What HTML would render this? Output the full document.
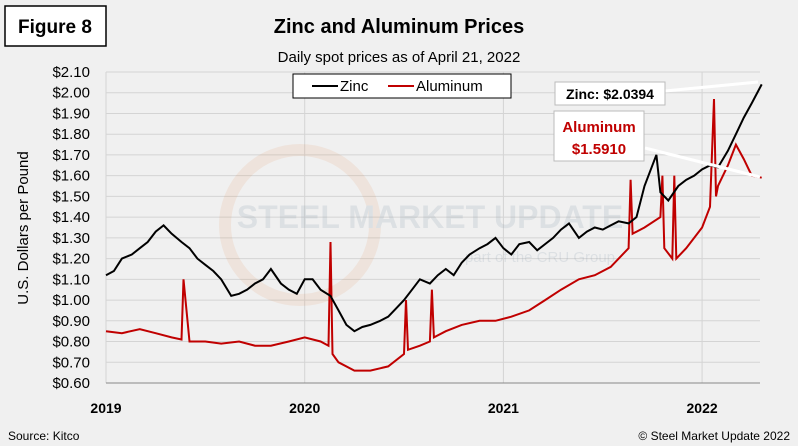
<!DOCTYPE html>
<html><head><meta charset="utf-8"><style>
body{margin:0;background:#fff}
svg{display:block;font-family:"Liberation Sans",sans-serif}
</style></head><body>
<svg width="798" height="446" viewBox="0 0 798 446">
<rect x="0" y="0" width="798" height="446" fill="#f0f0f0"/>
<rect x="5" y="6" width="101" height="40" fill="#fff" stroke="#000" stroke-width="1.5"/>
<text x="55" y="33" text-anchor="middle" font-size="19" font-weight="bold">Figure 8</text>
<text x="399" y="33" text-anchor="middle" font-size="20" font-weight="bold">Zinc and Aluminum Prices</text>
<text x="399" y="62" text-anchor="middle" font-size="15">Daily spot prices as of April 21, 2022</text>
<rect x="106" y="72" width="654" height="311" fill="#f0f0f0"/>
<g id="grid"></g>
<g opacity="0.18">
<circle cx="300" cy="225" r="75" fill="none" stroke="#e08040" stroke-width="12" opacity="0.6"/>
<text x="430" y="228" text-anchor="middle" font-size="32" font-weight="bold" fill="#8899aa">STEEL MARKET UPDATE</text>
<text x="540" y="262" text-anchor="middle" font-size="15" fill="#8899aa">part of the CRU Group</text>
</g>
<g id="series"></g>
<g id="axes"></g>
<text transform="translate(28,228) rotate(-90)" text-anchor="middle" font-size="15">U.S. Dollars per Pound</text>
<rect x="293" y="74" width="218" height="24" fill="#fff" stroke="#000"/>
<line x1="312" y1="86" x2="338" y2="86" stroke="#000" stroke-width="2"/>
<text x="340" y="91" font-size="15">Zinc</text>
<line x1="388" y1="86" x2="414" y2="86" stroke="#c00000" stroke-width="2"/>
<text x="416" y="91" font-size="15">Aluminum</text>
<line x1="665" y1="91" x2="758" y2="82" stroke="#fff" stroke-width="3"/>
<line x1="645" y1="148" x2="760" y2="177" stroke="#fff" stroke-width="3"/>
<rect x="555" y="82" width="110" height="23" fill="#fff" stroke="#bbb"/>
<text x="610" y="99" text-anchor="middle" font-size="14" font-weight="bold">Zinc: $2.0394</text>
<rect x="554" y="111" width="90" height="50" fill="#fff" stroke="#bbb"/>
<text x="599" y="132" text-anchor="middle" font-size="15" font-weight="bold" fill="#c00000">Aluminum</text>
<text x="599" y="154" text-anchor="middle" font-size="15" font-weight="bold" fill="#c00000">$1.5910</text>
<text x="8" y="440" font-size="12">Source: Kitco</text>
<text x="790" y="440" text-anchor="end" font-size="12">© Steel Market Update 2022</text>
</svg>
<script>
const yTicks=[0.6,0.7,0.8,0.9,1.0,1.1,1.2,1.3,1.4,1.5,1.6,1.7,1.8,1.9,2.0,2.1];
const xYears=[2019,2020,2021,2022];
const zincDates=[2019.0,2019.04,2019.08,2019.13,2019.17,2019.21,2019.25,2019.29,2019.33,2019.38,2019.42,2019.46,2019.5,2019.54,2019.58,2019.63,2019.67,2019.71,2019.75,2019.79,2019.83,2019.88,2019.92,2019.96,2020.0,2020.04,2020.08,2020.13,2020.17,2020.21,2020.25,2020.29,2020.33,2020.38,2020.42,2020.46,2020.5,2020.54,2020.58,2020.63,2020.67,2020.71,2020.75,2020.79,2020.83,2020.88,2020.92,2020.96,2021.0,2021.04,2021.08,2021.13,2021.17,2021.21,2021.25,2021.29,2021.33,2021.38,2021.42,2021.46,2021.5,2021.54,2021.58,2021.63,2021.67,2021.71,2021.75,2021.77,2021.79,2021.83,2021.88,2021.92,2021.96,2022.0,2022.04,2022.08,2022.13,2022.17,2022.21,2022.25,2022.3];
const zincValues=[1.12,1.14,1.20,1.22,1.25,1.28,1.33,1.36,1.32,1.28,1.25,1.20,1.17,1.14,1.10,1.02,1.03,1.05,1.08,1.10,1.15,1.08,1.05,1.03,1.10,1.10,1.05,1.02,0.95,0.88,0.85,0.87,0.88,0.90,0.92,0.96,1.00,1.05,1.10,1.08,1.12,1.15,1.12,1.18,1.22,1.25,1.27,1.30,1.25,1.22,1.27,1.28,1.24,1.27,1.30,1.34,1.37,1.30,1.33,1.35,1.34,1.36,1.38,1.37,1.40,1.55,1.65,1.70,1.52,1.48,1.55,1.58,1.60,1.63,1.65,1.64,1.72,1.80,1.88,1.95,2.04];
const aluDates=[2019.0,2019.08,2019.17,2019.25,2019.33,2019.38,2019.39,2019.42,2019.5,2019.58,2019.67,2019.75,2019.83,2019.92,2020.0,2020.08,2020.12,2020.13,2020.14,2020.17,2020.25,2020.33,2020.42,2020.5,2020.51,2020.52,2020.58,2020.63,2020.64,2020.65,2020.71,2020.79,2020.88,2020.96,2021.04,2021.13,2021.21,2021.29,2021.38,2021.46,2021.54,2021.63,2021.64,2021.65,2021.71,2021.79,2021.8,2021.81,2021.85,2021.86,2021.87,2021.92,2022.0,2022.04,2022.06,2022.07,2022.08,2022.13,2022.17,2022.21,2022.25,2022.3];
const aluValues=[0.85,0.84,0.86,0.84,0.82,0.81,1.10,0.80,0.80,0.79,0.80,0.78,0.78,0.80,0.82,0.80,0.78,1.28,0.74,0.70,0.66,0.66,0.68,0.74,1.00,0.76,0.78,0.80,1.05,0.82,0.85,0.88,0.90,0.90,0.92,0.95,1.00,1.05,1.10,1.12,1.16,1.25,1.58,1.32,1.35,1.40,1.60,1.25,1.20,1.60,1.20,1.25,1.35,1.45,1.97,1.50,1.55,1.65,1.75,1.68,1.60,1.59];
const X0=106,X1=760,Y0=383,Y1=72;
const xs=d=>X0+(d-2019)*198.7;
const ys=v=>Y0-(v-0.6)/1.5*(Y0-Y1);
const NS='http://www.w3.org/2000/svg';
const grid=document.getElementById('grid'),axes=document.getElementById('axes'),series=document.getElementById('series');
function mk(tag,at,parent){const e=document.createElementNS(NS,tag);for(const k in at)e.setAttribute(k,at[k]);parent.appendChild(e);return e;}
yTicks.forEach(v=>{
 const l=mk('line',{x1:X0,x2:X1,y1:ys(v),y2:ys(v),stroke:'#d4d4d4'},grid);
 
 
 const t=mk('text',{x:90,y:ys(v)+5,'text-anchor':'end','font-size':15},axes);
 t.textContent='$'+v.toFixed(2);
 
 
});
xYears.forEach(y=>{
 const l=mk('line',{x1:xs(y),x2:xs(y),y1:Y1,y2:Y0,stroke:'#d4d4d4'},grid);
 
 
 const t=mk('text',{x:xs(y),y:413,'text-anchor':'middle','font-size':14,'font-weight':'bold'},axes);
 t.textContent=y;
 
 
});
const ax=mk('line',{x1:X0,x2:X1,y1:Y0,y2:Y0,stroke:'#888'},axes);


function path(d,v){return d.map((x,i)=>(i?'L':'M')+xs(x).toFixed(1)+','+ys(v[i]).toFixed(1)).join('');}
const pa=mk('path',{d:path(aluDates,aluValues),fill:'none',stroke:'#c00000','stroke-width':2},series);


const pz=mk('path',{d:path(zincDates,zincValues),fill:'none',stroke:'#000','stroke-width':2},series);


</script>
</body></html>
